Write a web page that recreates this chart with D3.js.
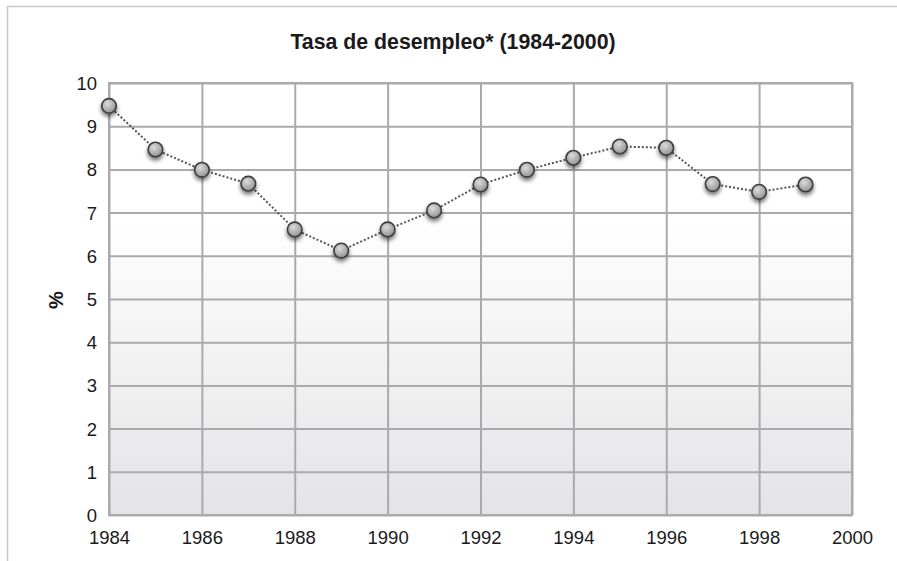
<!DOCTYPE html>
<html><head><meta charset="utf-8">
<script src="https://cdn.jsdelivr.net/npm/d3@7"></script>
<style>body{margin:0;background:#fff}svg{display:block}</style>
</head><body>
<script>
const years = [1984,1985,1986,1987,1988,1989,1990,1991,1992,1993,1994,1995,1996,1997,1998,1999];
const rates = [9.47,8.46,7.99,7.67,6.61,6.12,6.61,7.05,7.65,7.99,8.27,8.53,8.5,7.66,7.48,7.65];
const xTicks = [1984,1986,1988,1990,1992,1994,1996,1998,2000];
const yTicks = [0,1,2,3,4,5,6,7,8,9,10];
const title = "Tasa de desempleo* (1984-2000)";
const yLabel = "%";

const W = 897, H = 561;
const svg = d3.select("body").append("svg").attr("width", W).attr("height", H);
const defs = svg.append("defs");
const bg = defs.append("linearGradient").attr("id","bg").attr("x1",0).attr("y1",0).attr("x2",0).attr("y2",1);
bg.append("stop").attr("offset","0%").attr("stop-color","#ffffff");
bg.append("stop").attr("offset","30%").attr("stop-color","#ffffff");
bg.append("stop").attr("offset","100%").attr("stop-color","#e4e4e6");
const mg = defs.append("radialGradient").attr("id","mk").attr("cx","40%").attr("cy","35%").attr("r","70%");
mg.append("stop").attr("offset","0%").attr("stop-color","#dcdcdc");
mg.append("stop").attr("offset","100%").attr("stop-color","#8e8e90");
const sh = defs.append("filter").attr("id","sh").attr("x","-100%").attr("y","-100%").attr("width","300%").attr("height","300%");
sh.append("feGaussianBlur").attr("in","SourceAlpha").attr("stdDeviation",2.2);
sh.append("feOffset").attr("dx",0).attr("dy",3).attr("result","b");
sh.append("feComponentTransfer").append("feFuncA").attr("type","linear").attr("slope",0.55);
const mrg = sh.append("feMerge"); mrg.append("feMergeNode"); mrg.append("feMergeNode").attr("in","SourceGraphic");

// outer border
svg.append("line").attr("x1",7).attr("x2",W).attr("y1",6.5).attr("y2",6.5).attr("stroke","#c8c8c8").attr("stroke-width",1.5);
svg.append("line").attr("x1",7.5).attr("x2",7.5).attr("y1",6).attr("y2",H).attr("stroke","#c8c8c8").attr("stroke-width",1.5);

const L = 109, R = 852, T = 83, B = 515;
const x = d3.scaleLinear().domain([1984,2000]).range([L,R]);
const y = d3.scaleLinear().domain([0,10]).range([B,T]);

svg.append("rect").attr("x",L).attr("y",T).attr("width",R-L).attr("height",B-T).attr("fill","url(#bg)");

const gy = svg.append("g").attr("transform",`translate(${L},0)`)
  .call(d3.axisLeft(y).tickValues(yTicks).tickSize(-(R-L)).tickPadding(12).tickFormat(d3.format("d")));
const gx = svg.append("g").attr("transform",`translate(0,${B})`)
  .call(d3.axisBottom(x).tickValues(xTicks).tickSize(-(B-T)).tickPadding(16).tickFormat(d3.format("d")));
[gx,gy].forEach(g=>{
  g.select(".domain").remove();
  g.selectAll(".tick line").attr("stroke","#aaaaac").attr("stroke-width",2);
  g.selectAll(".tick text").attr("fill","#1a1a1a").style("font-family","Liberation Sans, Arial, sans-serif").style("font-size","18.5px");
});
gy.selectAll(".tick text").attr("dy","0.35em");
// frame
svg.append("rect").attr("x",L).attr("y",T).attr("width",R-L).attr("height",B-T).attr("fill","none").attr("stroke","#aaaaac").attr("stroke-width",2);

const line = d3.line().x((d,i)=>x(years[i])).y(d=>y(d));
svg.append("path").datum(rates).attr("d",line).attr("fill","none").attr("stroke","#555").attr("stroke-width",2).attr("stroke-dasharray","2,2");

svg.append("g").selectAll("circle").data(rates).join("circle")
  .attr("cx",(d,i)=>x(years[i])).attr("cy",d=>y(d)).attr("r",7.3)
  .attr("fill","url(#mk)").attr("stroke","#3c3c3e").attr("stroke-width",1.6).attr("filter","url(#sh)");

svg.append("text").attr("x",453).attr("y",49).attr("text-anchor","middle")
  .style("font-family","Liberation Sans, Arial, sans-serif").style("font-size","21.3px").style("font-weight","bold").attr("fill","#1a1a1a").text(title);
svg.append("text").attr("transform","translate(63,300) rotate(-90)").attr("text-anchor","middle")
  .style("font-family","Liberation Sans, Arial, sans-serif").style("font-size","20px").style("font-weight","bold").attr("fill","#1a1a1a").text(yLabel);
</script>
</body></html>
